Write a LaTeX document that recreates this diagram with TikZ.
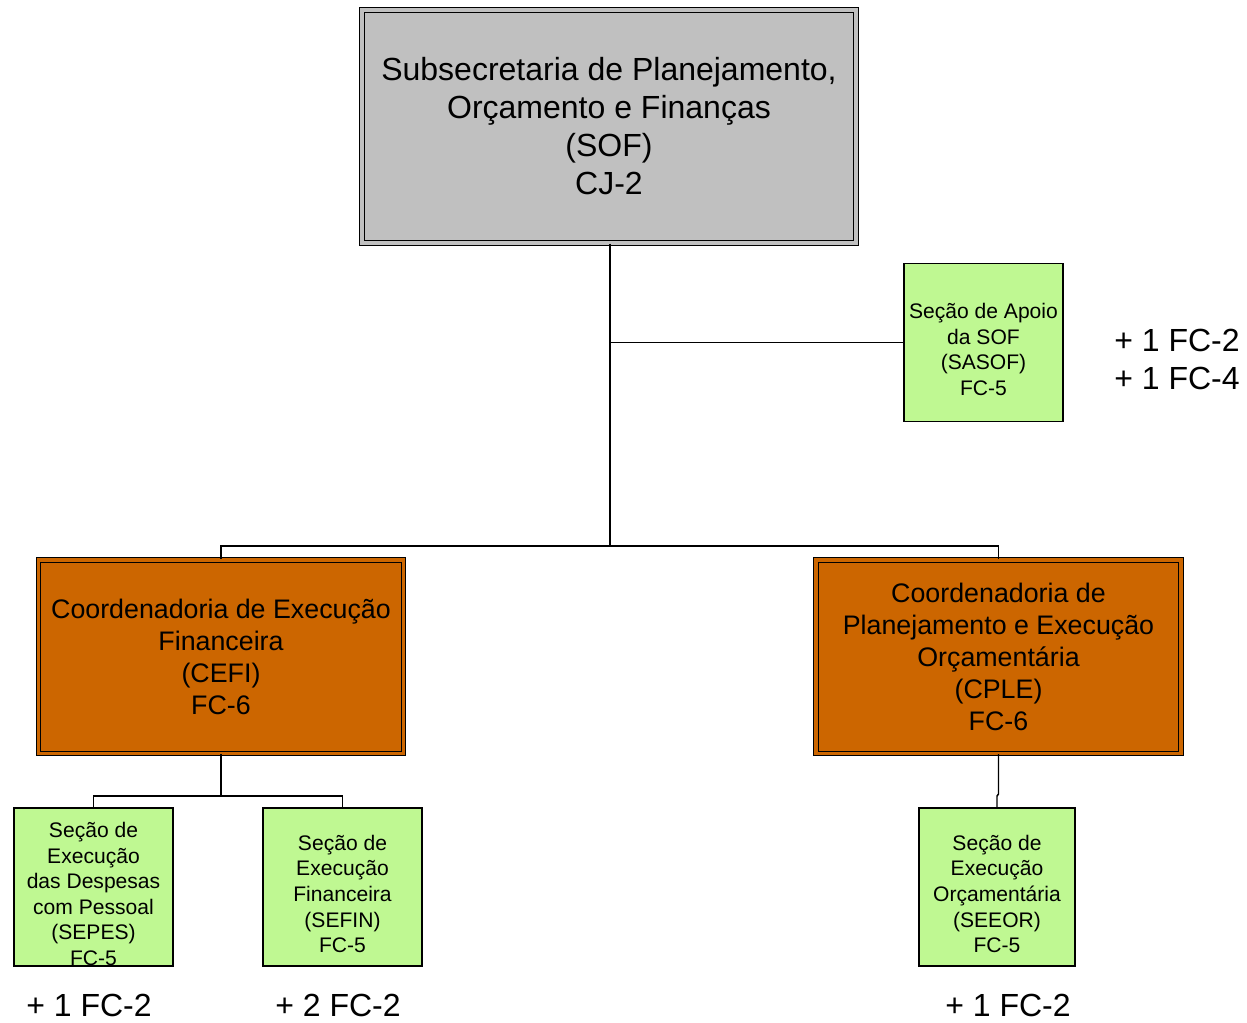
\documentclass[tikz,border=0pt]{standalone}
\usepackage{fontspec}
\setmainfont{Liberation Sans}
\definecolor{boxgray}{RGB}{192,192,192}
\definecolor{boxorange}{RGB}{204,102,0}
\definecolor{boxgreen}{RGB}{191,248,146}
\begin{document}
\begin{tikzpicture}[x=0.75pt,y=-0.75pt,
  dblbox/.style={draw=black,double=white,double distance=2.4pt,line width=0.9pt,inner sep=0pt,align=center},
  topbox/.style={dblbox,double=boxgray,fill=boxgray,minimum width=370.5pt,minimum height=174.75pt,font=\fontsize{24}{28.5}\selectfont},
  coordbox/.style={dblbox,double=boxorange,fill=boxorange,minimum width=273.75pt,minimum height=145pt,font=\fontsize{20.1}{24}\selectfont},
  secbox/.style={draw=black,fill=boxgreen,line width=1pt,inner sep=0pt,minimum width=119.25pt,minimum height=118.5pt},
  sectext/.style={inner sep=0pt,align=center,yshift=-5.25pt,font=\fontsize{15.8}{19.2}\selectfont},
  extra/.style={inner sep=0pt,font=\fontsize{24}{28}\selectfont,align=left},
  conn/.style={draw=black,line width=1.1pt}
]
\useasboundingbox (0,0) rectangle (1247,1022);
\node[topbox] (sof) at (609,126.5) {Subsecretaria de Planejamento,\\Orçamento e Finanças\\(SOF)\\CJ-2};
\node[secbox,label={[sectext]center:Seção de Apoio\\da SOF\\(SASOF)\\FC-5}] (sasof) at (983.5,342.5) {};
\node[coordbox] (cefi) at (221,656.75) {Coordenadoria de Execução\\Financeira\\(CEFI)\\FC-6};
\node[coordbox] (cple) at (998.5,656.75) {Coordenadoria de\\Planejamento e Execução\\Orçamentária\\(CPLE)\\FC-6};
\node[secbox,label={[sectext]center:Seção de\\Execução\\das Despesas\\com Pessoal\\(SEPES)\\FC-5}] (sepes) at (93.5,887) {};
\node[secbox,label={[sectext]center:Seção de\\Execução\\Financeira\\(SEFIN)\\FC-5}] (sefin) at (342.5,887) {};
\node[secbox,minimum width=117pt,label={[sectext]center:Seção de\\Execução\\Orçamentária\\(SEEOR)\\FC-5}] (seeor) at (997,887) {};
\node[extra] (xsasof) at (1177,359.5) {+ 1 FC-2\\+ 1 FC-4};
\node[extra] (xsepes) at (89,1005) {+ 1 FC-2};
\node[extra] (xsefin) at (338,1005) {+ 2 FC-2};
\node[extra] (xseeor) at (1008,1005) {+ 1 FC-2};
\coordinate (hub) at (610,546);
\coordinate (lowl) at (221,796);
\path[conn] (sof.south -| hub) -- (hub);
\path[conn] (sof.south |- sasof.west) ++(1,0) -- (sasof.west);
\path[conn] (hub) -| (cefi.north);
\path[conn] (hub) -| (cple.north);
\path[conn] (cefi.south) -- (lowl);
\path[conn] (lowl) -| (sepes.north);
\path[conn] (lowl) -| (sefin.north);
\path[conn] (cple.south) -- ++(0,40) -- ++(-1.5,2) -- (seeor.north);
\end{tikzpicture}
\end{document}
